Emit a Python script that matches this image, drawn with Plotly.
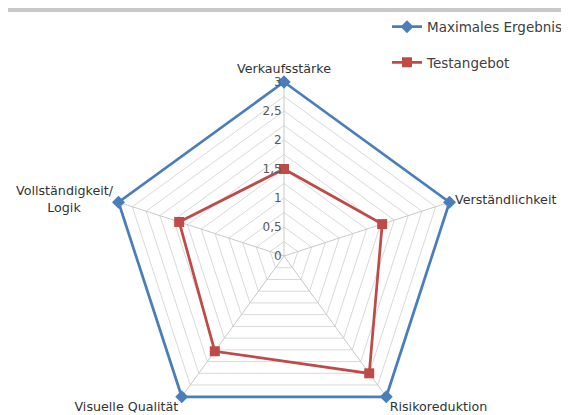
import plotly.graph_objects as go

# ---- data ----
categories = ["Verkaufsstärke", "Verständlichkeit", "Risikoreduktion",
              "Visuelle Qualität", "Vollständigkeit/Logik"]
category_labels = ["Verkaufsstärke", "Verständlichkeit", "Risikoreduktion",
                   "Visuelle Qualität",
                   "Vollständigkeit/<br>Logik" + "\u00a0" * 8]
max_values = [3, 3, 3, 3, 3]
test_values = [1.5, 1.78, 2.5, 2.03, 1.9]
grid_levels = [0, 0.25, 0.5, 0.75, 1.0, 1.25, 1.5, 1.75, 2.0, 2.25, 2.5, 2.75, 3.0]
grid_labels = ["0", "", "0,5", "", "1", "", "1,5", "", "2", "", "2,5", "", "3"]
series_names = ["Maximales Ergebnis", "Testangebot"]

FONT = "DejaVu Sans"
BLUE = "#4a7ebb"
RED = "#be4b48"
LABEL_RADIUS = 3.1   # where the category names sit (axis units)

fig = go.Figure()

# spokes (only up to the outer ring)
sp_r, sp_t = [], []
for c in categories:
    sp_r += [0, grid_levels[-1], None]
    sp_t += [c, c, c]
fig.add_trace(go.Scatterpolar(r=sp_r, theta=sp_t, mode="lines",
                              line=dict(color="#c8c8c8", width=1),
                              hoverinfo="skip", showlegend=False))

# data series
fig.add_trace(go.Scatterpolar(
    r=max_values + [max_values[0]], theta=categories + [categories[0]],
    mode="lines+markers", name=series_names[0], legendgroup="a",
    line=dict(color=BLUE, width=2.75),
    marker=dict(symbol="diamond", size=10, color=BLUE),
    cliponaxis=False))
fig.add_trace(go.Scatterpolar(
    r=test_values + [test_values[0]], theta=categories + [categories[0]],
    mode="lines+markers", name=series_names[1], legendgroup="b",
    line=dict(color=RED, width=2.75),
    marker=dict(symbol="square", size=10, color=RED),
    cliponaxis=False))

# category labels
fig.add_trace(go.Scatterpolar(
    r=[LABEL_RADIUS] * len(categories), theta=categories, mode="text",
    text=category_labels,
    textposition=["top center", "middle right", "bottom right",
                  "bottom left", "middle left"],
    textfont=dict(family=FONT, size=12.7, color="#333333"),
    hoverinfo="skip", showlegend=False, cliponaxis=False))

# page has an 8px body margin; figure coordinates are page coordinates - 8
W, H = 590, 430
cx, cy = 276, 248
R3 = 174            # pixel radius of value 3
rmin, rmax = 0, 3.12
Rc = R3 * (rmax - rmin) / 3

fig.update_layout(
    width=W, height=H,
    margin=dict(l=0, r=0, t=0, b=0),
    paper_bgcolor="white",
    plot_bgcolor="white",
    font=dict(family=FONT, color="#404040"),
    polar=dict(
        domain=dict(x=[(cx - Rc) / W, (cx + Rc) / W],
                    y=[(H - cy - Rc) / H, (H - cy + Rc) / H]),
        bgcolor="rgba(0,0,0,0)",
        gridshape="linear",
        angularaxis=dict(direction="clockwise", rotation=90,
                         categoryorder="array", categoryarray=categories,
                         showgrid=False, showline=False, showticklabels=False,
                         ticks=""),
        radialaxis=dict(range=[rmin, rmax], tickvals=grid_levels,
                        ticktext=grid_labels, angle=90, tickangle=90,
                        side="counterclockwise",
                        showticklabels=True, ticks="", showline=False,
                        tickfont=dict(family=FONT, size=12, color="#595959"),
                        gridcolor="#d9d9d9", gridwidth=1),
    ),
    legend=dict(x=379 / W, y=0.992, xanchor="left", yanchor="top",
                font=dict(family=FONT, size=13.5, color="#404040"),
                traceorder="grouped", tracegroupgap=15, itemwidth=30,
                bgcolor="rgba(0,0,0,0)"),
    shapes=[
        dict(type="rect", xref="paper", yref="paper", x0=0, x1=1,
             y0=1 - 4 / H, y1=1, fillcolor="#c8c8c8", line_width=0, layer="below"),
    ],
)

fig.write_html("out.html")
